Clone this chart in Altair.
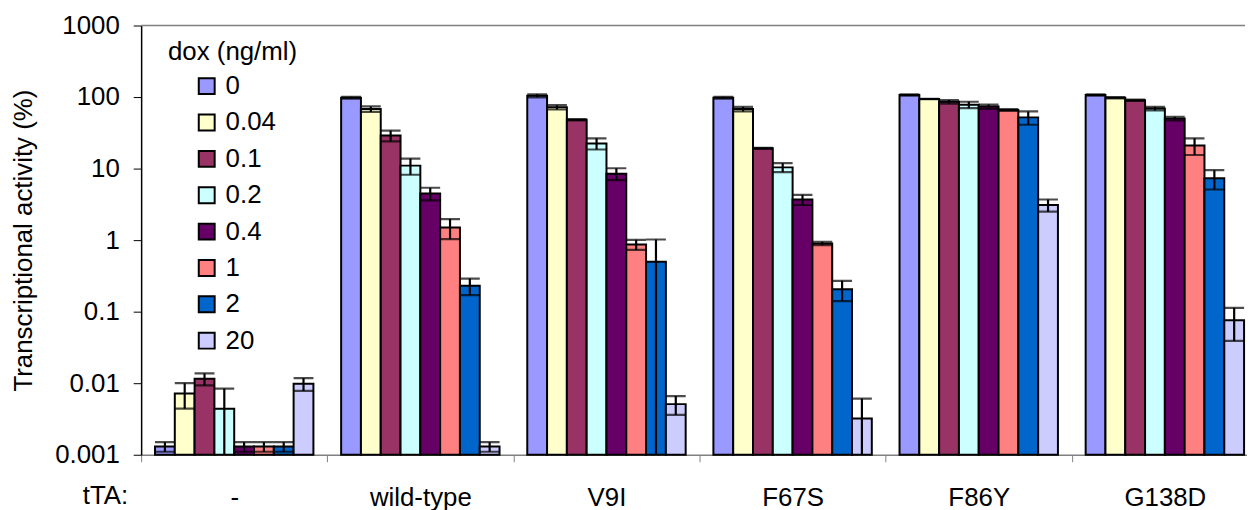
import altair as alt
import pandas as pd
import numpy as np

groups = ["-", "wild-type", "V9I", "F67S", "F86Y", "G138D"]
doses = ["0", "0.04", "0.1", "0.2", "0.4", "1", "2", "20"]
colors = ["#9999FF", "#FFFFCC", "#993366", "#CCFFFF", "#660066", "#FF8080", "#0066CC", "#CCCCFF"]

vals_none = [0.0013, 0.0072, 0.0115, 0.0044, 0.0013, 0.0013, 0.0013, 0.0098]
errs_none = [0.0002, 0.0028, 0.0022, 0.004, 0.0002, 0.0002, 0.0002, 0.002]
vals_wt = [98, 68, 29, 11, 4.5, 1.5, 0.23, 0.0013]
errs_wt = [3, 6, 5, 2.8, 0.9, 0.47, 0.06, 0.0002]
vals_v9i = [104, 72, 48, 22.5, 8.5, 0.87, 0.5, 0.0051]
errs_v9i = [5, 5, 1, 4, 1.6, 0.14, 0.52, 0.0015]
vals_f67s = [98, 68, 19.2, 10.4, 3.7, 0.9, 0.205, 0.0032]
errs_f67s = [3, 5, 0.3, 1.5, 0.6, 0.05, 0.065, 0.0029]
vals_f86y = [107, 94, 86, 78, 73.5, 66, 52, 3.1]
errs_f86y = [2, 0.5, 5, 8, 5, 2, 11, 0.6]
vals_g138d = [107, 98, 90, 69, 50, 21, 7.3, 0.076]
errs_g138d = [2, 2, 2, 4, 3, 5.5, 2.2, 0.037]

y_ticks = [0.001, 0.01, 0.1, 1, 10, 100, 1000]
y_title = "Transcriptional activity (%)"
legend_title = "dox (ng/ml)"
x_prefix = "tTA:"

all_vals = [vals_none, vals_wt, vals_v9i, vals_f67s, vals_f86y, vals_g138d]
all_errs = [errs_none, errs_wt, errs_v9i, errs_f67s, errs_f86y, errs_g138d]

rows = []
for g, vs, es in zip(groups, all_vals, all_errs):
    for d, v, e in zip(doses, vs, es):
        rows.append({"group": g, "dose": d, "value": v,
                     "hi": v + e, "lo": max(v - e, 1e-5)})
df = pd.DataFrame(rows)

FONT = "Liberation Sans"
W, H = 1111, 432
XR = 1124

xenc = alt.X("group:N", sort=groups,
             scale=alt.Scale(domain=groups, range=[0, XR], paddingInner=0, paddingOuter=0),
             axis=alt.Axis(title=None, labelAngle=0, tickBand="extent", tickSize=7,
                           tickColor="#808080", domainColor="#808080", domainWidth=1.5,
                           labelFontSize=26, labelFont=FONT, labelColor="black",
                           labelPadding=23))
xoff = alt.XOffset("dose:N", sort=doses,
                   scale=alt.Scale(domain=doses, paddingInner=0, paddingOuter=0.7))
yscale = alt.Scale(type="log", domain=[0.001, 1000])

color = alt.Color("dose:N", sort=doses,
                  scale=alt.Scale(domain=doses, range=colors),
                  legend=alt.Legend(title=legend_title, orient="none", legendX=27, legendY=14,
                                    titleFontSize=26, titleFont=FONT, titleFontWeight="normal",
                                    titleColor="black", titlePadding=8,
                                    labelFontSize=26, labelFont=FONT, labelColor="black",
                                    labelOffset=6, symbolType="square", symbolSize=256,
                                    symbolStrokeColor="black", symbolStrokeWidth=2,
                                    symbolOffset=26, rowPadding=10.6, padding=0))

base = alt.Chart(df)

bars = base.mark_bar(stroke="black", strokeWidth=2).encode(
    x=xenc, xOffset=xoff,
    y=alt.Y("value:Q", scale=yscale,
            axis=alt.Axis(values=y_ticks, format="~g", title=y_title, grid=False,
                          tickSize=8, tickColor="black", domainColor="black", domainWidth=1.5,
                          labelFontSize=26, labelFont=FONT, labelColor="black", labelPadding=14,
                          titleFontSize=26, titleFont=FONT, titleFontWeight="normal",
                          titleColor="black", titlePadding=18)),
    y2=alt.datum(y_ticks[0]),
    color=color,
)

err = base.mark_rule(color="black", strokeWidth=2.2, clip=True).encode(
    x=xenc, xOffset=xoff,
    y=alt.Y("lo:Q", scale=yscale), y2="hi:Q")
cap_hi = base.mark_tick(color="black", thickness=2.2, size=20, clip=True).encode(
    x=xenc, xOffset=xoff, y=alt.Y("hi:Q", scale=yscale))
cap_lo = base.mark_tick(color="black", thickness=2.2, size=20, clip=True).encode(
    x=xenc, xOffset=xoff, y=alt.Y("lo:Q", scale=yscale))

top_line = alt.Chart(pd.DataFrame({"y": [y_ticks[-1]]})).mark_rule(
    color="#808080", strokeWidth=1.5).encode(y=alt.Y("y:Q", scale=yscale))

prefix = alt.Chart(pd.DataFrame({"t": [x_prefix]})).mark_text(
    align="right", baseline="middle", fontSize=26, font=FONT, color="black").encode(
    x=alt.value(-13), y=alt.value(H + 42), text="t:N")

chart = alt.layer(bars, err, cap_hi, cap_lo, top_line, prefix).properties(
    width=W, height=H,
    autosize=alt.AutoSizeParams(type="none"),
    padding={"left": 134, "top": 16, "right": 2, "bottom": 56},
).configure_view(stroke=None)

chart.save("out.html", embed_options={"renderer": "svg", "actions": False})
